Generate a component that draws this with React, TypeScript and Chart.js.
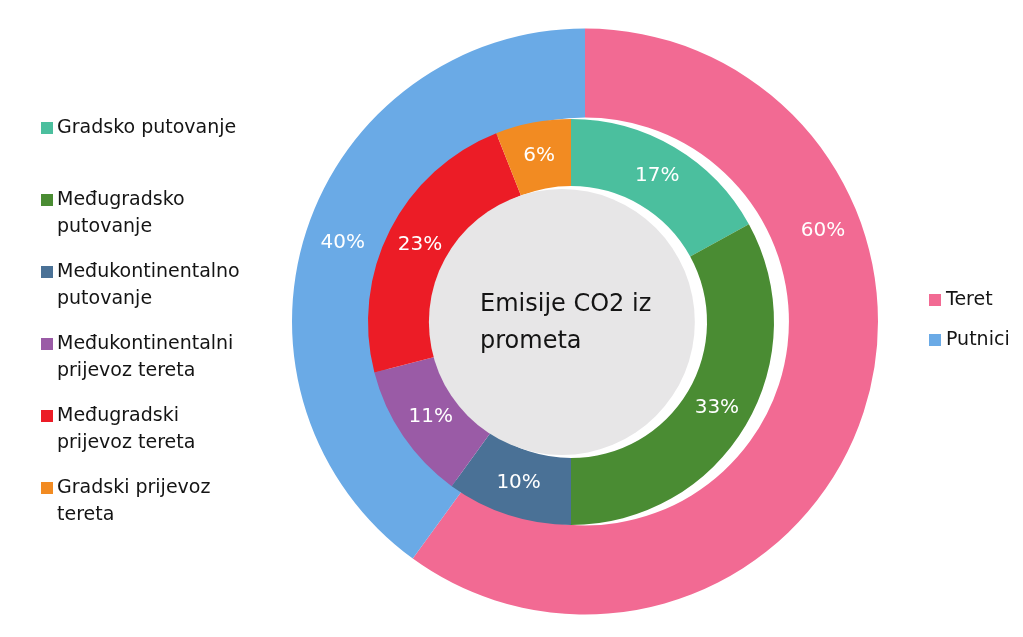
import React, { useEffect, useRef } from "react";
import { Chart, registerables } from "chart.js";

Chart.register(...registerables);

// ---------- data ----------
const innerCategories = [
  "Gradsko putovanje",
  "Međugradsko putovanje",
  "Međukontinentalno putovanje",
  "Međukontinentalni prijevoz tereta",
  "Međugradski prijevoz tereta",
  "Gradski prijevoz tereta",
];
const innerValues = [17, 33, 10, 11, 23, 6];
const innerColors = ["#4BBF9E", "#4A8C33", "#4A7196", "#9A5BA6", "#EC1C26", "#F28B22"];

const outerCategories = ["Teret", "Putnici"];
const outerValues = [60, 40];
const outerColors = ["#F26A93", "#6AAAE6"];
// where along each outer slice its label sits (0 = start, 1 = end)
const outerLabelFraction = [0.32, 0.5];

const centerTitle = ["Emisije CO2 iz", "prometa"];

const FONT = '"DejaVu Sans", "Noto Sans", sans-serif';
const W = 1023;
const H = 637;

function pct(values: number[], i: number) {
  const total = values.reduce((a, b) => a + b, 0);
  return Math.round((values[i] / total) * 100) + "%";
}

function wrapText(ctx: CanvasRenderingContext2D, text: string, maxWidth: number) {
  const words = text.split(" ");
  const lines: string[] = [];
  let cur = "";
  for (const w of words) {
    const test = cur ? cur + " " + w : w;
    if (cur && ctx.measureText(test).width > maxWidth) {
      lines.push(cur);
      cur = w;
    } else {
      cur = test;
    }
  }
  if (cur) lines.push(cur);
  return lines;
}

const outerPlugin = {
  id: "outerDecor",
  afterDatasetsDraw(chart: any) {
    const ctx: CanvasRenderingContext2D = chart.ctx;
    const meta = chart.getDatasetMeta(0);
    ctx.save();
    ctx.fillStyle = "#FFFFFF";
    ctx.font = `20px ${FONT}`;
    ctx.textAlign = "center";
    ctx.textBaseline = "middle";
    meta.data.forEach((arc: any, i: number) => {
      const p = arc.getProps(["x", "y", "startAngle", "endAngle", "innerRadius", "outerRadius"], true);
      const a = p.startAngle + (p.endAngle - p.startAngle) * outerLabelFraction[i];
      const r = p.innerRadius + (p.outerRadius - p.innerRadius) * 0.57;
      ctx.fillText(pct(outerValues, i), p.x + Math.cos(a) * r, p.y + Math.sin(a) * r);
    });
    ctx.restore();
  },
  afterDraw(chart: any) {
    const ctx: CanvasRenderingContext2D = chart.ctx;
    ctx.save();
    ctx.font = `19px ${FONT}`;
    ctx.textBaseline = "middle";
    ctx.textAlign = "left";
    outerCategories.forEach((name, i) => {
      const y = 300 + i * 40;
      ctx.fillStyle = outerColors[i];
      ctx.fillRect(929, y - 6, 12, 12);
      ctx.fillStyle = "#141414";
      ctx.fillText(name, 946, y);
    });
    ctx.restore();
  },
};

const innerPlugin = {
  id: "innerDecor",
  afterDatasetsDraw(chart: any) {
    const ctx: CanvasRenderingContext2D = chart.ctx;
    const meta = chart.getDatasetMeta(0);
    const first = meta.data[0].getProps(["x", "y", "innerRadius", "outerRadius"], true);
    const cx = first.x;
    const cy = first.y;
    const R = first.outerRadius;
    ctx.save();
    // grey centre disc
    ctx.fillStyle = "#E7E6E7";
    ctx.beginPath();
    ctx.arc(cx - R * 0.045, cy, R * 0.655, 0, Math.PI * 2);
    ctx.fill();
    // centre title
    ctx.fillStyle = "#141414";
    ctx.font = `24px ${FONT}`;
    ctx.textAlign = "left";
    ctx.textBaseline = "middle";
    ctx.fillText(centerTitle[0], cx - 91, cy - 17);
    ctx.fillText(centerTitle[1], cx - 91, cy + 20);
    // slice labels
    ctx.fillStyle = "#FFFFFF";
    ctx.font = `20px ${FONT}`;
    ctx.textAlign = "center";
    meta.data.forEach((arc: any, i: number) => {
      const p = arc.getProps(["x", "y", "startAngle", "endAngle", "innerRadius", "outerRadius"], true);
      const a = (p.startAngle + p.endAngle) / 2;
      const r = (p.innerRadius + p.outerRadius) / 2;
      ctx.fillText(pct(innerValues, i), p.x + Math.cos(a) * r, p.y + Math.sin(a) * r);
    });
    ctx.restore();
  },
  afterDraw(chart: any) {
    const ctx: CanvasRenderingContext2D = chart.ctx;
    ctx.save();
    ctx.font = `19px ${FONT}`;
    ctx.textBaseline = "middle";
    ctx.textAlign = "left";
    innerCategories.forEach((name, i) => {
      const y = 128 + i * 72;
      ctx.fillStyle = innerColors[i];
      ctx.fillRect(41, y - 6, 12, 12);
      ctx.fillStyle = "#141414";
      const lines = wrapText(ctx, name, 195);
      lines.forEach((ln, k) => ctx.fillText(ln, 57, y + k * 27));
    });
    ctx.restore();
  },
};

export default function App() {
  const outerRef = useRef<HTMLCanvasElement | null>(null);
  const innerRef = useRef<HTMLCanvasElement | null>(null);

  useEffect(() => {
    const outer = new Chart(outerRef.current as HTMLCanvasElement, {
      type: "doughnut",
      data: {
        labels: outerCategories,
        datasets: [
          {
            data: outerValues,
            backgroundColor: outerColors,
            borderWidth: 0,
            hoverOffset: 0,
          },
        ],
      },
      options: {
        responsive: false,
        animation: false,
        events: [],
        cutout: "69.6%",
        layout: { padding: { left: 292, right: 145, top: 28.5, bottom: 22.5 } },
        plugins: { legend: { display: false }, tooltip: { enabled: false } },
      },
      plugins: [outerPlugin],
    } as any);

    const inner = new Chart(innerRef.current as HTMLCanvasElement, {
      type: "doughnut",
      data: {
        labels: innerCategories,
        datasets: [
          {
            data: innerValues,
            backgroundColor: innerColors,
            borderWidth: 0,
            hoverOffset: 0,
          },
        ],
      },
      options: {
        responsive: false,
        animation: false,
        events: [],
        cutout: "67%",
        layout: { padding: { left: 368, right: 249, top: 119, bottom: 112 } },
        plugins: { legend: { display: false }, tooltip: { enabled: false } },
      },
      plugins: [innerPlugin],
    } as any);

    return () => {
      outer.destroy();
      inner.destroy();
    };
  }, []);

  return (
    <div
      style={{
        position: "fixed",
        left: 0,
        top: 0,
        width: W,
        height: H,
        background: "#FFFFFF",
        overflow: "hidden",
      }}
    >
      <canvas ref={outerRef} width={W} height={H} style={{ position: "absolute", left: 0, top: 0 }} />
      <canvas ref={innerRef} width={W} height={H} style={{ position: "absolute", left: 0, top: 0 }} />
    </div>
  );
}
